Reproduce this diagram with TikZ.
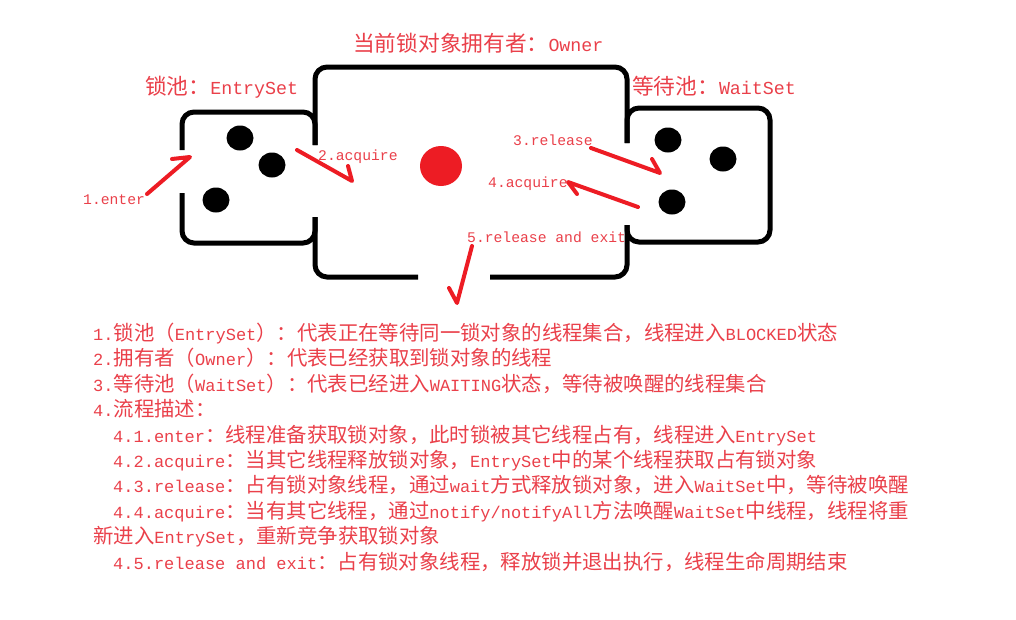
\documentclass[tikz,border=0pt]{standalone}
\usepackage{fontspec}
\newfontfamily\cjkf{Noto Sans CJK SC}
\newfontfamily\mnf{Liberation Mono}
\def\msize{17}
\newcommand\lt[1]{{\mnf\fontsize{\msize}{\msize}\selectfont #1}}
\definecolor{pred}{RGB}{237,28,36}
\definecolor{tred}{RGB}{234,64,74}
\tikzset{
  box/.style={line width=5pt, rounded corners=12pt, line cap=butt},
  redline/.style={draw=pred, line width=4pt, line cap=round, line join=round},
  body/.style={anchor=base west, inner sep=0pt, text=tred,
    font=\cjkf\fontsize{20.4}{25}\selectfont\def\msize{17}},
  toplabel/.style={anchor=base west, inner sep=0pt, text=tred,
    font=\cjkf\fontsize{21.7}{26}\selectfont\def\msize{18.3}},
  arrowlabel/.style={anchor=base west, inner sep=0pt, text=tred,
    font=\mnf\fontsize{14.7}{16}\selectfont},
}
\begin{document}
\begin{tikzpicture}[x=1pt,y=-1pt]
\useasboundingbox (0,0) rectangle (1016,619);
\fill[white] (0,0) rectangle (1016,619);

% boxes
\draw[box] (182,150) -- (182,112) -- (315,112) -- (315,145);
\draw[box] (315,145) -- (315,67) -- (627,67) -- (627,143);
\draw[box] (182,193) -- (182,243) -- (315,243) -- (315,217);
\draw[box] (315,217) -- (315,277) -- (418,277);
\draw[box] (490,277) -- (627,277) -- (627,225);
\draw[box] (627,143) -- (627,108) -- (770,108) -- (770,242) -- (627,242) -- (627,225);

% threads
\fill (240,138) ellipse [x radius=13.5, y radius=12.5];
\fill (272,165) ellipse [x radius=13.5, y radius=12.5];
\fill (216,200) ellipse [x radius=13.5, y radius=12.5];
\fill[pred] (441,166) ellipse [x radius=21, y radius=20];
\fill (668,140) ellipse [x radius=13.5, y radius=12.5];
\fill (723,159) ellipse [x radius=13.5, y radius=12.5];
\fill (672,202) ellipse [x radius=13.5, y radius=12.5];

% titles
\node[toplabel] (owner) at (353,51) {当前锁对象拥有者：\lt{Owner}};
\node[toplabel] (entry) at (145,94) {锁池：\lt{EntrySet}};
\node[toplabel] (wait) at (632,94) {等待池：\lt{WaitSet}};

% arrow labels
\node[arrowlabel] (l1) at (83,204) {1.enter};
\node[arrowlabel] (l2) at (318,160) {2.acquire};
\node[arrowlabel] (l3) at (513,145) {3.release};
\node[arrowlabel] (l4) at (488,187) {4.acquire};
\node[arrowlabel] (l5) at (467,242) {5.release and exit};

% arrow coordinates
\coordinate (e1) at (147,194); \coordinate (e2) at (190,157); \coordinate (e3) at (172,159);
\coordinate (a1) at (297,150); \coordinate (a2) at (352,181); \coordinate (a3) at (348,166);
\coordinate (r1) at (591,148); \coordinate (r2) at (660,173); \coordinate (r3) at (652,159);
\coordinate (q1) at (638,207); \coordinate (q2) at (568,182); \coordinate (q3) at (577,194);
\coordinate (x1) at (472,246); \coordinate (x2) at (457,303); \coordinate (x3) at (449,288);
\draw[redline] (e1) -- (e2) -- (e3);
\draw[redline] (a1) -- (a2) -- (a3);
\draw[redline] (r1) -- (r2) -- (r3);
\draw[redline] (q1) -- (q2) -- (q3);
\draw[redline] (x1) -- (x2) -- (x3);

% description
\node[body] (t1) at (93,340.5) {\lt{1.}锁池（\lt{EntrySet}）：代表正在等待同一锁对象的线程集合，线程进入\lt{BLOCKED}状态};
\node[body] (t2) at (93,365.9) {\lt{2.}拥有者（\lt{Owner}）：代表已经获取到锁对象的线程};
\node[body] (t3) at (93,391.3) {\lt{3.}等待池（\lt{WaitSet}）：代表已经进入\lt{WAITING}状态，等待被唤醒的线程集合};
\node[body] (t4) at (93,416.7) {\lt{4.}流程描述：};
\node[body] (t5) at (113,442.1) {\lt{4.1.enter}：线程准备获取锁对象，此时锁被其它线程占有，线程进入\lt{EntrySet}};
\node[body] (t6) at (113,467.5) {\lt{4.2.acquire}：当其它线程释放锁对象，\lt{EntrySet}中的某个线程获取占有锁对象};
\node[body] (t7) at (113,492.9) {\lt{4.3.release}：占有锁对象线程，通过\lt{wait}方式释放锁对象，进入\lt{WaitSet}中，等待被唤醒};
\node[body] (t8) at (113,518.3) {\lt{4.4.acquire}：当有其它线程，通过\lt{notify/notifyAll}方法唤醒\lt{WaitSet}中线程，线程将重};
\node[body] (t9) at (93,543.7) {新进入\lt{EntrySet}，重新竞争获取锁对象};
\node[body] (t10) at (113,569.1) {\lt{4.5.release and exit}：占有锁对象线程，释放锁并退出执行，线程生命周期结束};
\end{tikzpicture}
\end{document}
